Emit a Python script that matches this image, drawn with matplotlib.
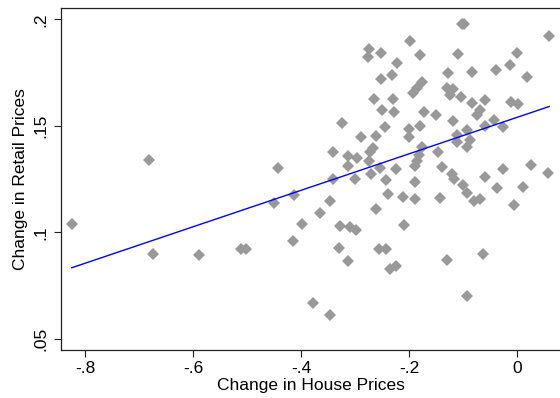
import numpy as np
import matplotlib
matplotlib.use("Agg")
import matplotlib.pyplot as plt

plt.rcParams['font.family'] = ['Liberation Sans', 'DejaVu Sans']

# change in house prices (x) and change in retail prices (y)
house = [-0.825, -0.682, -0.674, -0.590, -0.512, -0.502, -0.451, -0.444, -0.415, -0.413,
         -0.399, -0.379, -0.365, -0.347, -0.346, -0.341, -0.341, -0.330, -0.328, -0.325,
         -0.314, -0.314, -0.314, -0.310, -0.299, -0.301, -0.296, -0.290, -0.276, -0.275,
         -0.275, -0.273, -0.268, -0.271, -0.265, -0.262, -0.261, -0.256, -0.254, -0.253,
         -0.252, -0.251, -0.245, -0.244, -0.243, -0.239, -0.236, -0.233, -0.230, -0.229,
         -0.224, -0.224, -0.222, -0.211, -0.209, -0.201, -0.200, -0.198, -0.194, -0.189,
         -0.189, -0.189, -0.186, -0.186, -0.183, -0.177, -0.181, -0.180, -0.177, -0.172,
         -0.151, -0.146, -0.143, -0.139, -0.130, -0.131, -0.128, -0.125, -0.121, -0.120,
         -0.119, -0.117, -0.112, -0.112, -0.109, -0.104, -0.103, -0.098, -0.100, -0.094,
         -0.094, -0.094, -0.093, -0.088, -0.084, -0.084, -0.081, -0.075, -0.070, -0.069,
         -0.064, -0.060, -0.060, -0.059, -0.044, -0.040, -0.037, -0.026, -0.026, -0.014,
         -0.011, -0.007, 0.000, 0.002, 0.011, 0.017, 0.026, 0.057, 0.059]

retail = [0.1038, 0.1339, 0.0897, 0.0893, 0.0919, 0.0919, 0.1135, 0.1300, 0.0959, 0.1173,
          0.1039, 0.0669, 0.1091, 0.1149, 0.0612, 0.1375, 0.1248, 0.0925, 0.1027, 0.1511,
          0.1356, 0.1310, 0.0867, 0.1026, 0.1011, 0.1252, 0.1350, 0.1449, 0.1824, 0.1859,
          0.1336, 0.1378, 0.1394, 0.1273, 0.1625, 0.1108, 0.1454, 0.0922, 0.1300, 0.1718,
          0.1840, 0.1574, 0.1492, 0.1246, 0.0921, 0.1179, 0.0826, 0.1738, 0.1625, 0.1566,
          0.1296, 0.0840, 0.1797, 0.1166, 0.1034, 0.1449, 0.1486, 0.1900, 0.1656, 0.1311,
          0.1238, 0.1156, 0.1676, 0.1335, 0.1363, 0.1402, 0.1834, 0.1499, 0.1707, 0.1564,
          0.1551, 0.1377, 0.1161, 0.1308, 0.0870, 0.1676, 0.1748, 0.1645, 0.1275, 0.1523,
          0.1674, 0.1250, 0.1457, 0.1425, 0.1837, 0.1634, 0.1978, 0.1978, 0.1222, 0.1480,
          0.1402, 0.1186, 0.0701, 0.1433, 0.1751, 0.1606, 0.1145, 0.1551, 0.1154, 0.1574,
          0.0897, 0.1499, 0.1261, 0.1621, 0.1527, 0.1764, 0.1207, 0.1496, 0.1296, 0.1785,
          0.1613, 0.1128, 0.1844, 0.1600, 0.1214, 0.1728, 0.1316, 0.1280, 0.1922]

xticks = [-0.8, -0.6, -0.4, -0.2, 0]
xticklabels = ['-.8', '-.6', '-.4', '-.2', '0']
yticks = [0.05, 0.1, 0.15, 0.2]
yticklabels = ['.05', '.1', '.15', '.2']

house = np.array(house)
retail = np.array(retail)

fig = plt.figure(figsize=(5.6, 3.98), dpi=100)
ax = fig.add_axes([61/560, 48/398, 499/560, 342/398])

ax.plot(house, retail, 'D', color='#999999', markersize=6, markeredgewidth=0, zorder=2)

# linear fit over the data range
slope, intercept = np.polyfit(house, retail, 1)
xs = np.array([house.min(), house.max()])
ax.plot(xs, intercept + slope*xs, color='#0000ff', lw=1.0, zorder=3)

ax.set_xlim(-0.845, 0.079)
ax.set_ylim(0.0447, 0.2053)

ax.set_xticks(xticks)
ax.set_xticklabels(xticklabels)
ax.set_yticks(yticks)
ax.set_yticklabels(yticklabels, rotation=90, va='center')

ax.tick_params(direction='out', length=5, width=0.8, labelsize=12.5, color='#222222')
ax.tick_params(axis='x', pad=3)
ax.tick_params(axis='y', pad=4)

for s in ['left', 'bottom', 'top']:
    ax.spines[s].set_linewidth(0.9)
    ax.spines[s].set_color('#222222')
ax.spines['right'].set_visible(False)

ax.set_xlabel('Change in House Prices', fontsize=12.5, labelpad=1.5)
ax.set_ylabel('Change in Retail Prices', fontsize=12.5, labelpad=4)

fig.savefig('out.png', dpi=100)
